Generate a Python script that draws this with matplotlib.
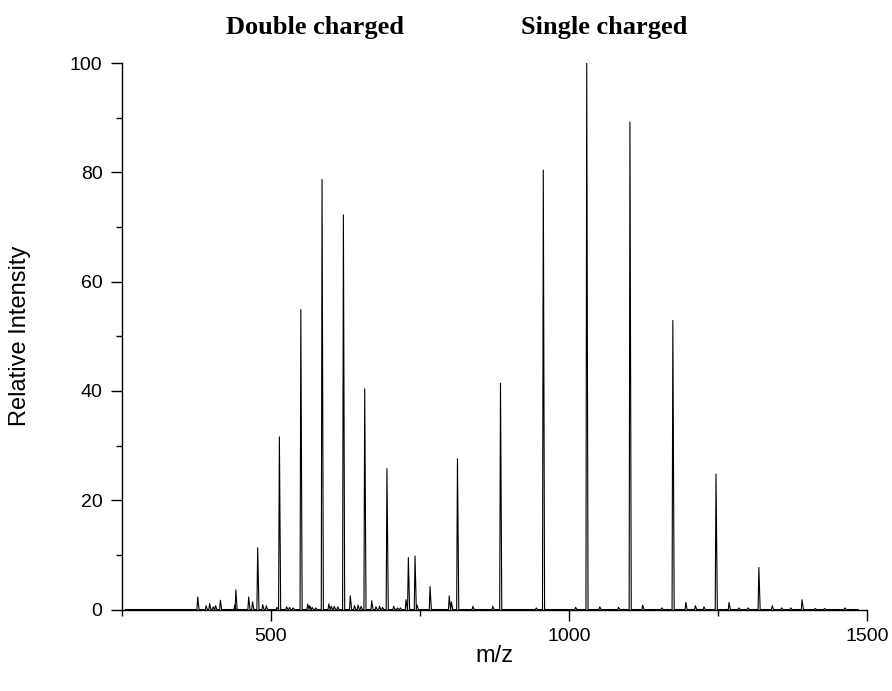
import matplotlib
matplotlib.use("Agg")
import matplotlib.pyplot as plt
from matplotlib.ticker import MultipleLocator

# ---- data ----
double_mz = [477.6, 514.0, 550.0, 585.6, 621.4, 657.2, 694.5, 730.4, 741.6, 766.8]
double_int = [11.3, 31.6, 54.9, 78.7, 72.2, 40.4, 25.8, 9.5, 9.8, 4.2]

single_mz = [812.8, 885.0, 956.8, 1029.7, 1102.2, 1174.2, 1246.6, 1318.5, 1391.0]
single_int = [27.6, 41.4, 80.4, 100.0, 89.2, 52.9, 24.8, 7.7, 1.8]

minor_mz = [377, 391, 397, 403, 407, 415, 439, 441, 462.5, 469, 486, 492, 510, 526,
            531, 537, 561.5, 565, 569, 575, 597, 601, 606, 612, 633, 640, 646, 651,
            669, 676, 682, 687, 705.7, 712, 717, 726.5, 745, 799, 802.7, 838.6, 872,
            945, 1011, 1051.6, 1083, 1123.6, 1155.6, 1196, 1212, 1226.4, 1268.5,
            1285, 1300.5, 1341, 1356.7, 1372, 1413, 1428.6, 1463]
minor_int = [2.3, 0.7, 1.1, 0.5, 0.7, 1.7, 0.8, 3.6, 2.3, 1.4, 0.9, 0.7, 0.4, 0.5,
             0.4, 0.3, 1.0, 0.7, 0.4, 0.3, 1.0, 0.6, 0.6, 0.5, 2.5, 0.7, 0.8, 0.6,
             1.6, 0.5, 0.6, 0.4, 0.6, 0.3, 0.3, 1.8, 0.8, 2.5, 1.4, 0.6, 0.6,
             0.3, 0.4, 0.5, 0.4, 0.8, 0.3, 1.3, 0.7, 0.5, 1.3,
             0.3, 0.3, 0.7, 0.3, 0.3, 0.2, 0.2, 0.3]

scan_start, scan_end = 256, 1485

# ---- build profile from peak list ----
peaks = sorted(zip(double_mz + single_mz + minor_mz, double_int + single_int + minor_int))
wl, wr = 1.3, 2.2
xs, ys = [scan_start], [0.0]
for c, h in peaks:
    xs += [c - wl, c, c + wr]
    ys += [0.0, h, 0.0]
xs.append(scan_end)
ys.append(0.0)

plt.rcParams['font.family'] = ['Liberation Sans', 'DejaVu Sans']
fig = plt.figure(figsize=(8.92, 6.91), dpi=100)
ax = fig.add_axes([0.1368, 0.1179, 0.8352, 0.7909])
ax.plot(xs, ys, color='black', lw=0.8)

ax.set_xlim(250, 1500)
ax.set_ylim(0, 100)
ax.xaxis.set_major_locator(MultipleLocator(500))
ax.xaxis.set_minor_locator(MultipleLocator(250))
ax.yaxis.set_major_locator(MultipleLocator(20))
ax.yaxis.set_minor_locator(MultipleLocator(10))
for s in ['top', 'right']:
    ax.spines[s].set_visible(False)
for s in ['left', 'bottom']:
    ax.spines[s].set_linewidth(1.0)
ax.tick_params(which='major', direction='out', length=8, width=1.0, labelsize=14)
ax.tick_params(axis='y', which='major', pad=6)
ax.tick_params(axis='x', which='major', pad=5)
ax.tick_params(which='minor', direction='out', length=4, width=1.0)
ax.set_xlabel('m/z', fontsize=17, va='center')
ax.set_ylabel('Relative Intensity', fontsize=17, va='center')
ax.xaxis.set_label_coords(0.5, (609.5 - 656) / 546.5)
ax.yaxis.set_label_coords((20 - 122) / 745, 0.5)

fig.text(315 / 892, 1 - 34 / 691, 'Double charged', ha='center', va='baseline',
         fontsize=19, fontweight='bold', family='Liberation Serif')
fig.text(604 / 892, 1 - 34 / 691, 'Single charged', ha='center', va='baseline',
         fontsize=19, fontweight='bold', family='Liberation Serif')

fig.savefig('out.png', dpi=100)
